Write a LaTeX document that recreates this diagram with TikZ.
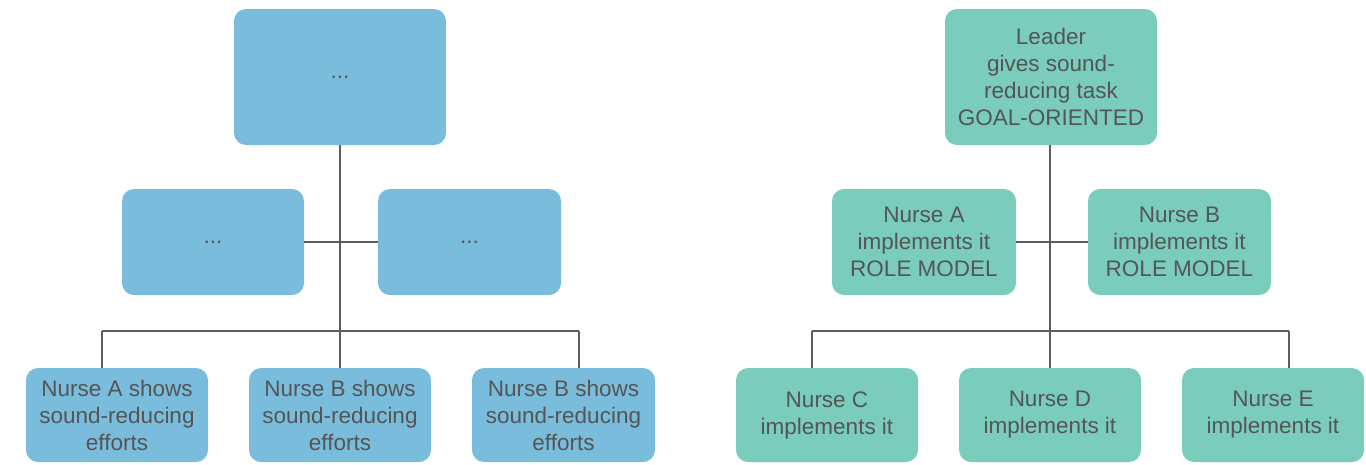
\documentclass[tikz,border=0pt]{standalone}
\usepackage{fontspec}
\setmainfont{Liberation Sans}
\definecolor{boxblue}{HTML}{79BCDC}
\definecolor{boxgreen}{HTML}{7ACCBD}
\definecolor{txt}{HTML}{555555}
\definecolor{wire}{HTML}{5C5C5C}
\begin{document}
\begin{tikzpicture}[x=1pt,y=-1pt,
  card/.style={rounded corners=12pt,inner sep=0pt,align=center,text=txt,
    font=\fontsize{22.5}{27}\selectfont},
  blue/.style={card,fill=boxblue},
  green/.style={card,fill=boxgreen},
  wire/.style={draw=wire,line width=2.8pt}]
\useasboundingbox (0,0) rectangle (1366,464);

% box helper: corner-to-corner sized nodes
\newcommand{\cardbox}[7]{%
  \node[#1,minimum width=#4-#2,minimum height=#5-#3] (#6) at ({(#2+#4)/2},{(#3+#5)/2}) {#7};}

% ---------- left tree ----------
\cardbox{blue}{234}{9}{446}{145}{lt}{...}
\cardbox{blue}{122}{189}{304}{295}{lml}{...}
\cardbox{blue}{378}{189}{561}{295}{lmr}{...}
\cardbox{blue}{26}{368}{208}{462}{lb1}{Nurse A shows\\sound-reducing\\efforts}
\cardbox{blue}{249}{368}{431}{462}{lb2}{Nurse B shows\\sound-reducing\\efforts}
\cardbox{blue}{472}{368}{655}{462}{lb3}{Nurse B shows\\sound-reducing\\efforts}

\coordinate (lbar) at (340,331);
\coordinate (lbarL) at (102,331);
\coordinate (lbarR) at (579,331);
\draw[wire] (lt.south) -- (lbar);
\draw[wire] (lml.east) -- (lmr.west);
\draw[wire] (lbarL) -- (lbarR);
\draw[wire] (lbarL) -- (lbarL |- lb1.north);
\draw[wire] (lbar) -- (lb2.north);
\draw[wire] (lbarR) -- (lbarR |- lb3.north);

% ---------- right tree ----------
\cardbox{green}{945}{9}{1157}{145}{rt}{Leader\\gives sound-\\reducing task\\GOAL-ORIENTED}
\cardbox{green}{832}{189}{1016}{295}{rml}{Nurse A\\implements it\\ROLE MODEL}
\cardbox{green}{1088}{189}{1271}{295}{rmr}{Nurse B\\implements it\\ROLE MODEL}
\cardbox{green}{736}{368}{918}{462}{rb1}{Nurse C\\implements it}
\cardbox{green}{959}{368}{1141}{462}{rb2}{Nurse D\\implements it}
\cardbox{green}{1182}{368}{1364}{462}{rb3}{Nurse E\\implements it}

\coordinate (rbar) at (1050,331);
\coordinate (rbarL) at (812,331);
\coordinate (rbarR) at (1289,331);
\draw[wire] (rt.south -| rbar) -- (rbar);
\draw[wire] (rml.east) -- (rmr.west);
\draw[wire] (rbarL) -- (rbarR);
\draw[wire] (rbarL) -- (rbarL |- rb1.north);
\draw[wire] (rbar) -- (rbar |- rb2.north);
\draw[wire] (rbarR) -- (rbarR |- rb3.north);
\end{tikzpicture}
\end{document}
